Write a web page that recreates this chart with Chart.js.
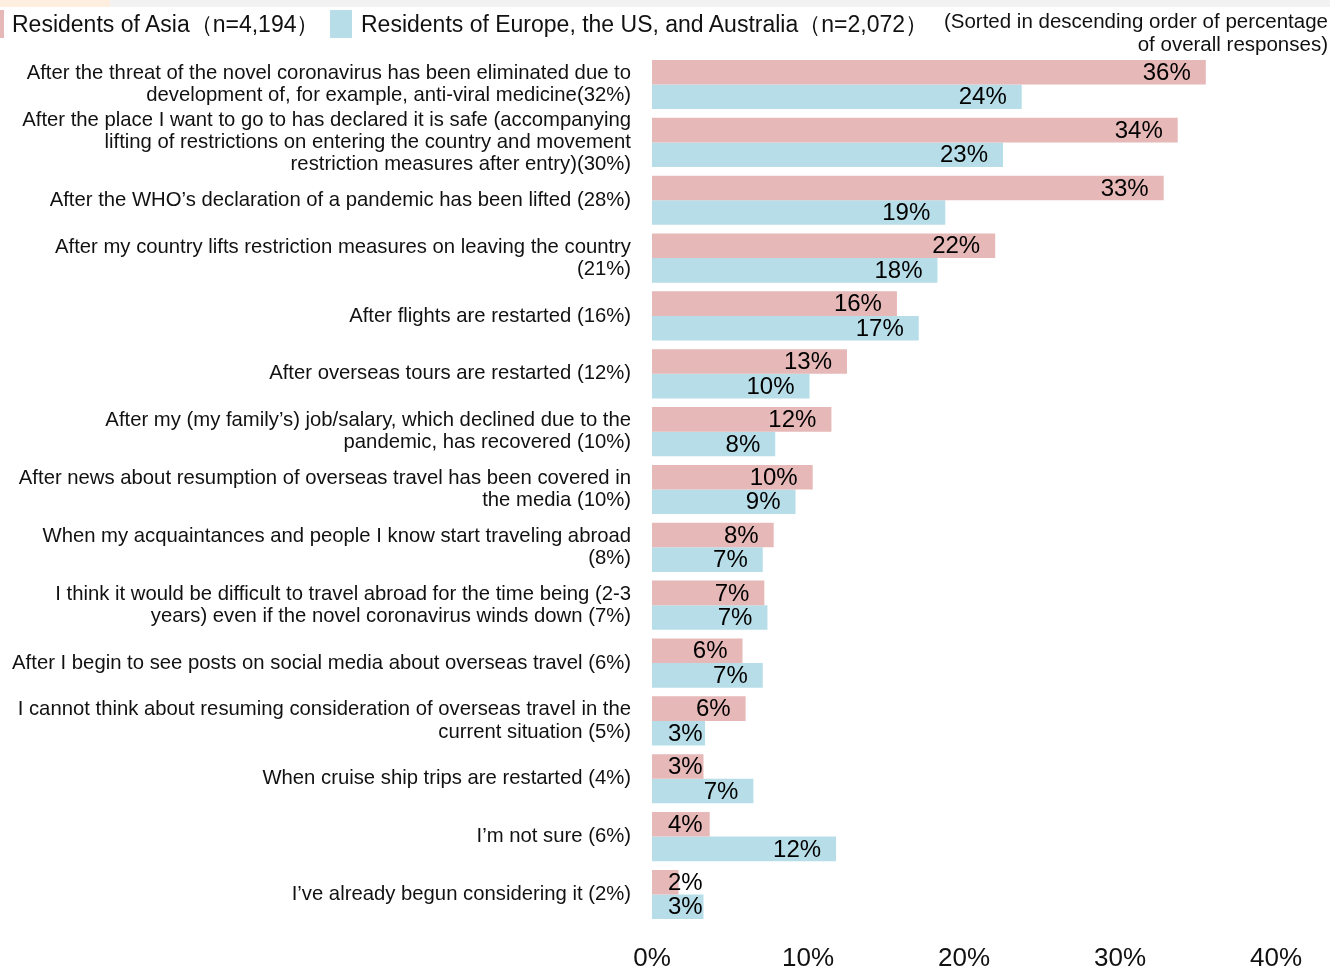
<!DOCTYPE html>
<html>
<head>
<meta charset="utf-8">
<script src="https://cdn.jsdelivr.net/npm/chart.js@4"></script>
<style>
  body { margin: 0; background: #fff; font-family: "Liberation Sans", Arial, sans-serif; }
  #wrap { position: relative; width: 1330px; height: 968px; overflow: hidden; }
  #strip { position: absolute; left: 0; top: 0; width: 1330px; height: 7px; background: #f2f2f2; }
  #strip2 { position: absolute; left: 0; top: 0; width: 110px; height: 7px; background: #fdeee0; }
  .key { position: absolute; top: 10px; height: 28px; }
  .lbl { position: absolute; top: 10px; font-size: 23px; line-height: 28px; color: #111; white-space: nowrap; }
  #note { position: absolute; right: 2px; top: 9px; font-size: 20.5px; line-height: 23px; text-align: right; color: #111; }
</style>
</head>
<body>
<div id="wrap">
  <canvas id="chart"></canvas>
  <div id="strip"></div><div id="strip2"></div>
  <div id="legend"></div>
  <div id="note">(Sorted in descending order of percentage<br>of overall responses)</div>
</div>
<script>
const categories = [
  ['After the threat of the novel coronavirus has been eliminated due to', 'development of, for example, anti-viral medicine(32%)'],
  ['After the place I want to go to has declared it is safe (accompanying', 'lifting of restrictions on entering the country and movement', 'restriction measures after entry)(30%)'],
  'After the WHO\u2019s declaration of a pandemic has been lifted (28%)',
  ['After my country lifts restriction measures on leaving the country', '(21%)'],
  'After flights are restarted (16%)',
  'After overseas tours are restarted (12%)',
  ['After my (my family\u2019s) job/salary, which declined due to the', 'pandemic, has recovered (10%)'],
  ['After news about resumption of overseas travel has been covered in', 'the media (10%)'],
  ['When my acquaintances and people I know start traveling abroad', '(8%)'],
  ['I think it would be difficult to travel abroad for the time being (2-3', 'years) even if the novel coronavirus winds down (7%)'],
  'After I begin to see posts on social media about overseas travel (6%)',
  ['I cannot think about resuming consideration of overseas travel in the', 'current situation (5%)'],
  'When cruise ship trips are restarted (4%)',
  'I\u2019m not sure (6%)',
  'I\u2019ve already begun considering it (2%)'
];
const asia = [35.5, 33.7, 32.8, 22.0, 15.7, 12.5, 11.5, 10.3, 7.8, 7.2, 5.8, 6.0, 3.3, 3.7, 1.7];
const west = [23.7, 22.5, 18.8, 18.3, 17.1, 10.1, 7.9, 9.2, 7.1, 7.4, 7.1, 3.4, 6.5, 11.8, 3.3];
const seriesNames = ['Residents of Asia\uff08n=4,194\uff09', 'Residents of Europe, the US, and Australia\uff08n=2,072\uff09'];
const xTicks = [0, 10, 20, 30, 40];

const colors = ['#e6b8b7', '#b7dee8'];
const FONT = '"Liberation Sans", Arial, sans-serif';

// legend in html
const legend = document.getElementById('legend');
const keyPos = [[-18, 12], [330, 361]];
seriesNames.forEach((name, i) => {
  const k = document.createElement('div');
  k.className = 'key';
  k.style.left = keyPos[i][0] + 'px';
  k.style.width = '22px';
  k.style.background = colors[i];
  legend.appendChild(k);
  const t = document.createElement('div');
  t.className = 'lbl';
  t.style.left = keyPos[i][1] + 'px';
  t.textContent = name;
  legend.appendChild(t);
});

const barLabels = {
  id: 'barLabels',
  afterDatasetsDraw(chart) {
    const ctx = chart.ctx;
    ctx.save();
    ctx.font = '24px ' + FONT;
    ctx.fillStyle = '#000';
    ctx.textBaseline = 'middle';
    ctx.textAlign = 'left';
    chart.data.datasets.forEach((ds, i) => {
      chart.getDatasetMeta(i).data.forEach((bar, j) => {
        const txt = Math.round(ds.data[j]) + '%';
        const w = ctx.measureText(txt).width;
        let left = bar.x - 15 - w;
        if (left < chart.chartArea.left + 16) left = chart.chartArea.left + 16;
        ctx.fillText(txt, left, bar.y + 1);
      });
    });
    ctx.restore();
  }
};

new Chart(document.getElementById('chart'), {
  type: 'bar',
  data: {
    labels: categories,
    datasets: [
      { label: seriesNames[0], data: asia, backgroundColor: colors[0] },
      { label: seriesNames[1], data: west, backgroundColor: colors[1] }
    ]
  },
  options: {
    indexAxis: 'y',
    responsive: true,
    maintainAspectRatio: false,
    animation: false,
    categoryPercentage: 0.85,
    barPercentage: 1.0,
    layout: { padding: { top: 55.6, right: 54, left: 0, bottom: 0 } },
    plugins: {
      legend: { display: false },
      tooltip: { enabled: false }
    },
    scales: {
      x: {
        min: 0,
        max: 40,
        afterBuildTicks: (s) => { s.ticks = xTicks.map(v => ({ value: v })); },
        afterFit: (s) => { s.height = 44.6; },
        grid: { display: false, drawTicks: false },
        border: { display: false },
        ticks: {
          padding: 20,
          color: '#111',
          font: { family: FONT, size: 26 },
          callback: (v) => v + '%'
        }
      },
      y: {
        afterFit: (s) => { s.width = 652; },
        grid: { display: false, drawTicks: false },
        border: { display: false },
        ticks: {
          padding: 21,
          color: '#111',
          autoSkip: false,
          font: { family: FONT, size: 20.3, lineHeight: 1.1 }
        }
      }
    }
  },
  plugins: [barLabels]
});
</script>
</body>
</html>
